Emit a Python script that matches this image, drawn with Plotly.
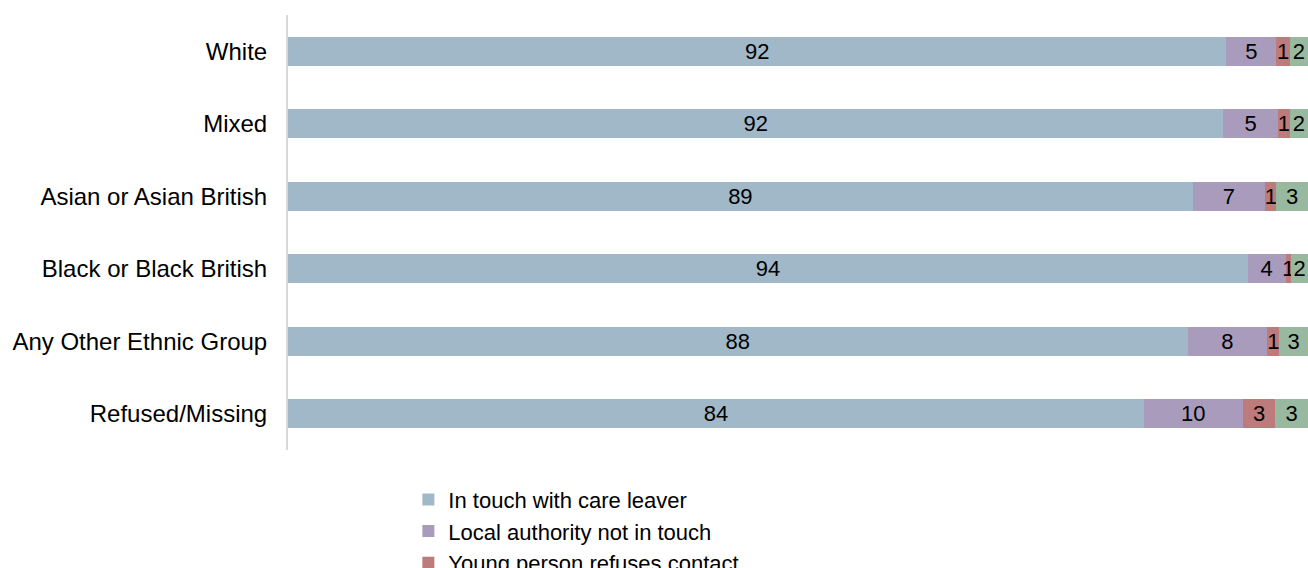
import plotly.graph_objects as go

groups = ["White", "Mixed", "Asian or Asian British", "Black or Black British",
          "Any Other Ethnic Group", "Refused/Missing"]

in_touch = [92.0, 91.7, 88.7, 94.1, 88.2, 83.9]
la_not_in_touch = [4.9, 5.35, 7.1, 3.7, 7.8, 9.7]
refuses_contact = [1.3, 1.15, 1.1, 0.55, 1.2, 3.2]
no_longer_required = [1.8, 1.8, 3.1, 1.65, 2.8, 3.2]

series = [
    ("In touch with care leaver", in_touch, "#A1B8C8"),
    ("Local authority not in touch", la_not_in_touch, "#A89BBC"),
    ("Young person refuses contact", refuses_contact, "#BD7B7B"),
    ("Young person no longer requires services", no_longer_required, "#99B8A0"),
]

fig = go.Figure()
for name, vals, color in series:
    fig.add_trace(go.Bar(
        y=groups, x=vals, name=name, orientation="h",
        marker=dict(color=color, line=dict(width=0)),
        text=[str(round(v)) for v in vals],
        textposition="inside", insidetextanchor="middle", textangle=0,
        insidetextfont=dict(size=22, color="#000000"),
        constraintext="none",
    ))

fig.update_layout(
    barmode="stack", bargap=0.6,
    width=1308, height=568,
    margin=dict(l=288, r=0, t=15, b=118, autoexpand=False),
    plot_bgcolor="white", paper_bgcolor="white",
    font=dict(family="Liberation Sans, Arial, sans-serif", size=22, color="#000000"),
    uniformtext=dict(minsize=22, mode="show"),
    xaxis=dict(range=[0, 100], visible=False, showgrid=False),
    yaxis=dict(autorange="reversed", showline=True, linecolor="#D9D9D9",
               linewidth=2, ticks="", ticklabelstandoff=14,
               tickfont=dict(size=24), showgrid=False),
    legend=dict(x=0.118, y=-0.066, xanchor="left", yanchor="top",
                font=dict(size=22), traceorder="normal",
                itemwidth=30, tracegroupgap=0),
    showlegend=True,
)

fig.write_html("out.html", config={"displayModeBar": False},
               post_script="document.body.style.margin='0';")
